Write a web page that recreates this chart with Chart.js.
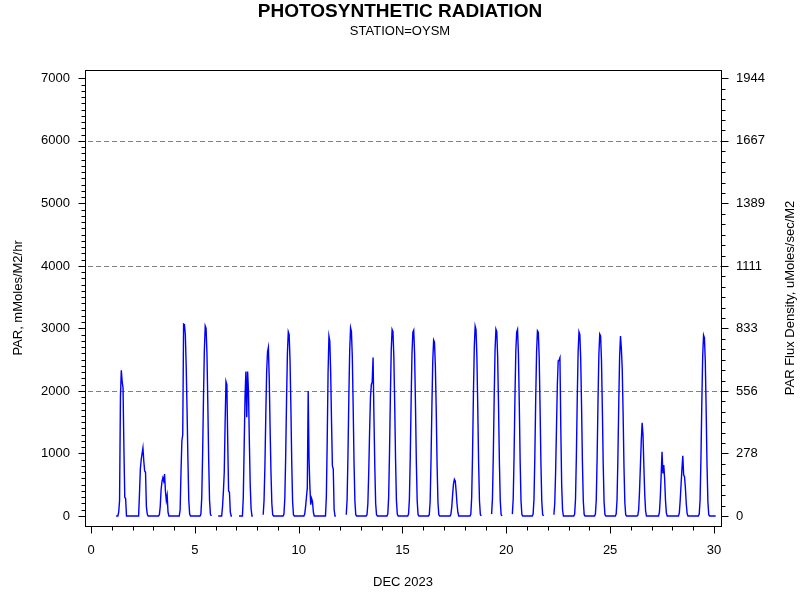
<!DOCTYPE html>
<html>
<head>
<meta charset="utf-8">
<script src="https://cdn.jsdelivr.net/npm/chart.js"></script>
<style>
  html, body { margin: 0; padding: 0; background: #ffffff; }
  canvas { display: block; }
</style>
</head>
<body>
<canvas id="c" width="800" height="600"></canvas>
<script>
// ---------------- DATA ----------------
const titleText = 'PHOTOSYNTHETIC RADIATION';
const subtitleText = 'STATION=OYSM';
const xTitle = 'DEC 2023';
const leftTitle = 'PAR, mMoles/M2/hr';
const rightTitle = 'PAR Flux Density, uMoles/sec/M2';

const firstDay = 1;               // first row = Dec 1, values for hours 0..23
const hourly = [
  [null,null,null,null,null,0,0,0,60,250,1900,2330,2150,2050,1100,300,280,0,0,0,0,0,0,0],
  [0,0,0,0,0,0,0,0,350,750,900,1000,1090,880,720,700,150,30,0,0,0,0,0,0],
  [0,0,0,0,0,0,0,20,150,420,550,610,560,670,400,250,330,60,0,0,0,0,0,0],
  [0,0,0,0,0,0,0,100,700,1200,1300,3070,3060,2900,2400,1700,900,250,30,0,0,0,0,0],
  [0,0,0,0,0,0,0,30,300,1000,1900,2650,3040,3000,2600,1800,900,250,30,0,null,null,null,null],
  [null,null,null,0,0,0,0,0,150,390,700,1500,2150,2100,1200,400,380,60,0,0,null,null,null,null],
  [null,null,null,0,0,0,0,0,300,1100,1900,2310,1580,2310,2000,1200,500,120,0,0,null,null,null,null],
  [null,null,null,null,null,null,null,20,250,800,1600,2300,2626,2696,2200,1400,700,200,20,0,0,0,0,0],
  [0,0,0,0,0,0,0,30,280,950,1850,2600,2946,2900,2500,1750,850,230,20,0,0,0,0,0],
  [0,0,0,0,0,0,0,30,150,300,450,2000,900,450,180,280,230,60,0,0,0,0,0,0],
  [0,0,0,0,0,0,0,0,300,1200,2300,2877,2800,2300,1500,800,750,100,0,0,null,null,null,null],
  [null,null,null,null,null,null,null,20,260,980,1900,2650,3010,2950,2550,1750,850,240,20,0,0,0,0,0],
  [0,0,0,0,0,0,0,20,200,700,1350,1900,2100,2146,2536,1600,800,200,20,0,0,0,0,0],
  [0,0,0,0,0,0,0,30,290,1000,1900,2650,2983,2950,2550,1800,900,250,30,0,0,0,0,0],
  [0,0,0,0,0,0,0,30,270,950,1850,2600,2940,2973,2600,1800,880,240,25,0,0,0,0,0],
  [0,0,0,0,0,0,0,20,240,900,1750,2480,2813,2780,2400,1700,820,220,20,0,0,0,0,0],
  [0,0,0,0,0,0,0,0,30,150,350,520,586,560,400,200,60,0,0,0,0,0,0,0],
  [0,0,0,0,0,0,0,30,300,1000,1950,2700,3037,2980,2550,1750,850,240,25,0,null,null,null,null],
  [null,null,null,null,null,null,null,30,280,980,1900,2650,2989,2950,2550,1780,870,250,25,0,null,null,null,null],
  [null,null,null,null,null,null,null,30,280,970,1900,2640,2940,2983,2600,1800,880,240,25,0,0,0,0,0],
  [0,0,0,0,0,0,0,30,270,960,1880,2620,2962,2940,2550,1760,860,240,25,0,null,null,null,null],
  [null,null,null,null,null,null,null,20,200,700,1400,2100,2482,2490,2530,1400,500,100,0,0,0,0,0,0],
  [0,0,0,0,0,0,0,30,270,960,1870,2610,2946,2900,2520,1740,850,240,25,0,0,0,0,0],
  [0,0,0,0,0,0,0,30,260,940,1840,2580,2909,2880,2500,1730,840,230,25,0,0,0,0,0],
  [0,0,0,0,0,0,0,30,260,930,1820,2560,2877,2680,2350,1650,800,220,20,0,0,0,0,0],
  [0,0,0,0,0,0,0,0,10,100,400,800,1200,1492,1300,800,350,80,0,0,0,0,0,0],
  [0,0,0,0,0,0,0,0,0,60,300,650,1028,682,815,600,250,50,0,0,0,0,0,0],
  [0,0,0,0,0,0,0,0,50,250,500,750,964,655,630,450,200,40,0,0,0,0,0,0],
  [0,0,0,0,0,0,0,30,260,930,1820,2560,2893,2850,2480,1700,820,230,20,0,0,0,0,0],
  [0,0,0]
];

const xTicks = [0, 5, 10, 15, 20, 25, 30];
const yTicks = [0, 1000, 2000, 3000, 4000, 5000, 6000, 7000];
const yTickLabels = ['0', '1000', '2000', '3000', '4000', '5000', '6000', '7000'];
const yGridValues = [2000, 4000, 6000];
const rightTickLabels = ['0', '278', '556', '833', '1111', '1389', '1667', '1944'];
const rightFactor = 3.6;          // mMoles/M2/hr -> uMoles/sec/M2

// ---------------- BUILD ----------------
const points = [];
hourly.forEach((row, i) => {
  row.forEach((v, h) => points.push({ x: firstDay + i + h / 24, y: v }));
});

const FONT = '"Liberation Sans", Arial, Helvetica, sans-serif';
Chart.defaults.font.family = FONT;
Chart.defaults.color = '#000000';

const X_MIN = -0.29, X_MAX = 30.34, Y_MIN = -160, Y_MAX = 7136;

const decorPlugin = {
  id: 'decor',
  beforeDraw(chart) {
    const ctx = chart.ctx;
    ctx.save();
    ctx.fillStyle = '#ffffff';
    ctx.fillRect(0, 0, chart.width, chart.height);
    ctx.restore();
  },
  beforeDatasetsDraw(chart) {
    const { ctx, chartArea: a, scales: { y } } = chart;
    ctx.save();
    ctx.strokeStyle = '#808080';
    ctx.lineWidth = 1;
    ctx.setLineDash([5, 3]);
    yGridValues.forEach(v => {
      const py = Math.round(y.getPixelForValue(v)) + 0.5;
      ctx.beginPath();
      ctx.moveTo(a.left + 3, py);
      ctx.lineTo(a.right, py);
      ctx.stroke();
    });
    ctx.restore();
  },
  afterDraw(chart) {
    const { ctx, chartArea: a, scales: { x, y, y2 } } = chart;
    ctx.save();
    ctx.strokeStyle = '#000000';
    ctx.lineWidth = 1;
    const L = Math.round(a.left) + 0.5, R = Math.round(a.right) + 0.5;
    const T = Math.round(a.top) + 0.5, B = Math.round(a.bottom) + 0.5;
    ctx.strokeRect(L, T, R - L, B - T);
    ctx.beginPath();
    for (let d = 0; d <= 30; d++) {
      const px = Math.round(x.getPixelForValue(d)) + 0.5;
      const len = xTicks.includes(d) ? 7 : 4;
      ctx.moveTo(px, B); ctx.lineTo(px, B + len);
    }
    for (let v = 0; v <= 7000; v += 100) {
      const py = Math.round(y.getPixelForValue(v)) + 0.5;
      const len = (v % 1000 === 0) ? 7 : 4;
      ctx.moveTo(L, py); ctx.lineTo(L - len, py);
    }
    for (let k = 0; k <= 42; k++) {
      const v = (k * 1000 / 6) / rightFactor;
      const py = Math.round(y2.getPixelForValue(v)) + 0.5;
      const len = (k % 6 === 0) ? 7 : 4;
      ctx.moveTo(R, py); ctx.lineTo(R + len, py);
    }
    ctx.stroke();
    ctx.fillStyle = '#000000';
    ctx.font = '13px ' + FONT;
    ctx.textAlign = 'center';
    ctx.textBaseline = 'middle';
    ctx.translate(790, (a.top + a.bottom) / 2);
    ctx.rotate(-Math.PI / 2);
    ctx.fillText(rightTitle, 0, 0);
    ctx.restore();
  }
};

new Chart(document.getElementById('c'), {
  type: 'line',
  data: {
    datasets: [{
      data: points,
      borderColor: '#0000ff',
      borderWidth: 1.4,
      borderDash: [5000, 0],
      pointRadius: 0,
      tension: 0,
      fill: false,
      spanGaps: false,
      yAxisID: 'y'
    }]
  },
  options: {
    responsive: false,
    animation: false,
    devicePixelRatio: 1,
    layout: { padding: 0 },
    plugins: {
      legend: { display: false },
      tooltip: { enabled: false },
      title: {
        display: true, text: titleText, color: '#000000',
        font: { size: 19, weight: 'bold', family: FONT },
        padding: { top: 0, bottom: 0 }
      },
      subtitle: {
        display: true, text: subtitleText, color: '#000000',
        font: { size: 13, family: FONT },
        padding: { top: 1, bottom: 30.5 }
      }
    },
    scales: {
      x: {
        type: 'linear', position: 'bottom', min: X_MIN, max: X_MAX,
        afterBuildTicks: s => { s.ticks = xTicks.map(v => ({ value: v })); },
        afterFit: s => { s.height = 74; },
        ticks: { font: { size: 13 }, color: '#000000', padding: 17, maxRotation: 0, autoSkip: false },
        grid: { display: false, drawTicks: false },
        border: { display: false },
        title: { display: true, text: xTitle, color: '#000000', font: { size: 13 }, padding: { top: 0, bottom: 10 } }
      },
      y: {
        type: 'linear', position: 'left', min: Y_MIN, max: Y_MAX,
        afterBuildTicks: s => { s.ticks = yTicks.map(v => ({ value: v })); },
        afterFit: s => { s.width = 85; },
        ticks: {
          font: { size: 13 }, color: '#000000', padding: 15, autoSkip: false,
          callback: (value, index) => yTickLabels[index]
        },
        grid: { display: false, drawTicks: false },
        border: { display: false },
        title: { display: true, text: leftTitle, color: '#000000', font: { size: 13 }, padding: { top: 11, bottom: 0 } }
      },
      y2: {
        type: 'linear', position: 'right', min: Y_MIN / rightFactor, max: Y_MAX / rightFactor,
        afterBuildTicks: s => { s.ticks = yTicks.map(v => ({ value: v / rightFactor })); },
        afterFit: s => { s.width = 79; },
        ticks: {
          font: { size: 13 }, color: '#000000', padding: 15, autoSkip: false,
          callback: (value, index) => rightTickLabels[index]
        },
        grid: { display: false, drawTicks: false },
        border: { display: false }
      }
    }
  },
  plugins: [decorPlugin]
});
</script>
</body>
</html>
